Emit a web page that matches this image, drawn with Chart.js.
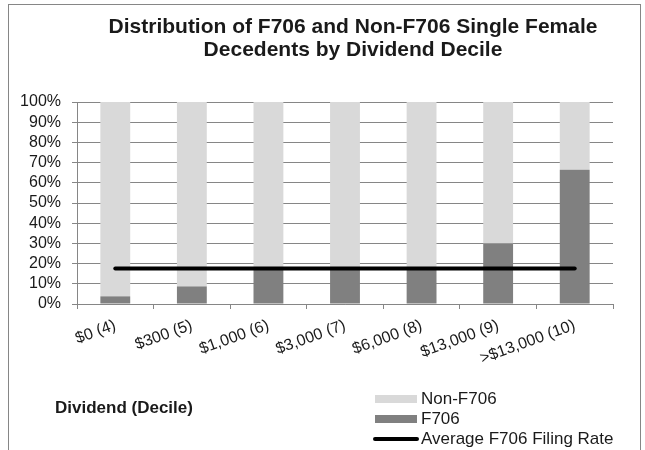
<!DOCTYPE html>
<html>
<head>
<meta charset="utf-8">
<script src="https://cdn.jsdelivr.net/npm/chart.js@4.4.1/dist/chart.umd.min.js"></script>
<style>
  body { margin: 0; background: #fff; }
  #chart { display: block; }
</style>
</head>
<body>
<canvas id="chart" width="645" height="450"></canvas>
<script>
// data (percent of decedents in each dividend decile)
const categories = ['$0 (4)', '$300 (5)', '$1,000 (6)', '$3,000 (7)', '$6,000 (8)', '$13,000 (9)', '>$13,000 (10)'];
const f706 = [3.8, 8.7, 18, 18, 18, 29.9, 66.4];
const nonF706 = [96.2, 91.3, 82, 82, 82, 70.1, 33.6];
const avgRate = [17.6, 17.6, 17.6, 17.6, 17.6, 17.6, 17.6];
const yTicks = [0, 10, 20, 30, 40, 50, 60, 70, 80, 90, 100];

const FONT = "'Liberation Sans', Arial, sans-serif";
const gridColor = '#868686';

// frame, title, axis title and legend are drawn by hand (Excel-like placement)
const decorations = {
    id: 'decorations',
    beforeDraw(chart) {
        const c = chart.ctx;
        c.save();
        c.strokeStyle = gridColor;
        c.lineWidth = 1;
        c.strokeRect(8.5, 4.5, 632, 500);
        c.restore();
    },
    afterDraw(chart) {
        const c = chart.ctx;
        c.save();
        c.fillStyle = '#1a1a1a';
        c.textBaseline = 'middle';

        // title
        c.font = 'bold 21px ' + FONT;
        c.textAlign = 'center';
        c.fillText('Distribution of F706 and Non-F706 Single Female', 353, 27);
        c.fillText('Decedents by Dividend Decile', 353, 50);

        // x axis title
        c.font = 'bold 17px ' + FONT;
        c.textAlign = 'left';
        c.fillText('Dividend (Decile)', 55, 408);

        // legend
        const ds = chart.data.datasets;
        const items = [ds[2], ds[1], ds[0]];
        c.font = '17px ' + FONT;
        items.forEach(function(d, i) {
            const y = 399 + i * 20;
            if (d.type === 'line') {
                c.strokeStyle = d.borderColor;
                c.lineWidth = 4;
                c.lineCap = 'round';
                c.beginPath();
                c.moveTo(375, y);
                c.lineTo(417, y);
                c.stroke();
            } else {
                c.fillStyle = d.backgroundColor;
                c.fillRect(375, y - 4, 42, 8);
            }
            c.fillStyle = '#1a1a1a';
            c.fillText(d.label, 421, y);
        });
        c.restore();
    }
};

new Chart(document.getElementById('chart'), {
    type: 'bar',
    data: {
        labels: categories,
        datasets: [
            {
                type: 'line',
                label: 'Average F706 Filing Rate',
                data: avgRate,
                borderColor: '#000',
                borderWidth: 4,
                borderCapStyle: 'round',
                pointRadius: 0,
                stack: 'avg',
                order: 0
            },
            {
                label: 'F706',
                data: f706,
                backgroundColor: '#808080',
                stack: 'bars',
                order: 1
            },
            {
                label: 'Non-F706',
                data: nonF706,
                backgroundColor: '#d9d9d9',
                stack: 'bars',
                order: 2
            }
        ]
    },
    options: {
        responsive: false,
        animation: false,
        barPercentage: 0.39,
        categoryPercentage: 1,
        layout: { padding: { left: 8, right: 32, top: 102, bottom: 86 } },
        plugins: {
            legend: { display: false },
            tooltip: { enabled: false }
        },
        scales: {
            x: {
                stacked: true,
                afterFit: function(scale) { scale.height = 60; },
                grid: { drawOnChartArea: false, drawTicks: true, tickLength: 5, color: gridColor },
                border: { color: gridColor },
                ticks: {
                    autoSkip: false,
                    minRotation: 20,
                    maxRotation: 20,
                    padding: 7,
                    color: '#1a1a1a',
                    font: { family: FONT, size: 16 }
                }
            },
            y: {
                stacked: true,
                min: 0,
                max: 100,
                afterFit: function(scale) { scale.width = 69; },
                afterBuildTicks: function(scale) {
                    scale.ticks = yTicks.map(function(v) { return { value: v }; });
                },
                grid: { color: gridColor, tickLength: 5 },
                border: { color: gridColor },
                ticks: {
                    autoSkip: false,
                    padding: 11,
                    color: '#1a1a1a',
                    font: { family: FONT, size: 16 },
                    callback: function(v) { return v + '%'; }
                }
            }
        }
    },
    plugins: [decorations]
});
</script>
</body>
</html>
